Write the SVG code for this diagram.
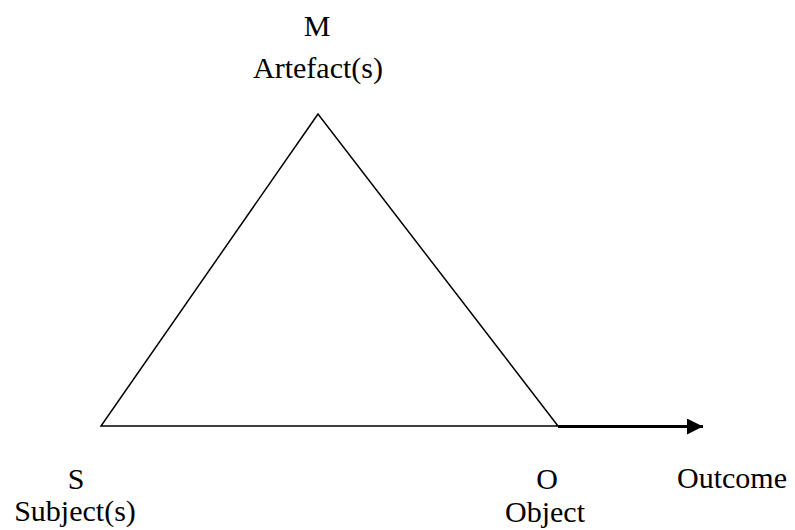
<svg xmlns="http://www.w3.org/2000/svg" width="795" height="530" viewBox="0 0 795 530">
<style>
text{font-family:"Liberation Serif","Times New Roman",serif;font-size:30px;fill:#000}
.c{text-anchor:middle}
.edge{stroke:#000;fill:none}
</style>
<defs>
<marker id="ah" markerWidth="16" markerHeight="16" refX="16" refY="8" orient="auto" markerUnits="userSpaceOnUse">
<path d="M0,0 L16,8 L0,16 Z" fill="#000"/>
</marker>
</defs>
<rect width="795" height="530" fill="#fff"/>
<g id="connectors">
<path class="edge" stroke-width="1.5" d="M318,114 L101,426 L558,426 Z"/>
<line class="edge" stroke-width="3" x1="558" y1="426.5" x2="703" y2="426.5" marker-end="url(#ah)"/>
</g>
<g id="node-M">
<text class="c" x="317" y="36">M</text>
<text class="c" x="318" y="78">Artefact(s)</text>
</g>
<g id="node-S">
<text class="c" x="76" y="489">S</text>
<text class="c" x="75" y="521">Subject(s)</text>
</g>
<g id="node-O">
<text class="c" x="547" y="489">O</text>
<text class="c" x="545" y="522">Object</text>
</g>
<g id="node-Outcome">
<text x="677" y="488">Outcome</text>
</g>
</svg>
